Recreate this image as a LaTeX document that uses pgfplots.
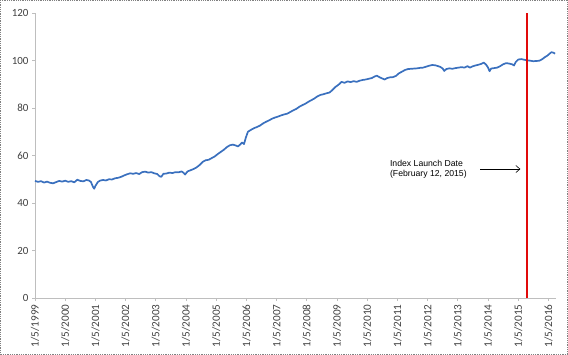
\documentclass[border=0pt]{standalone}
\usepackage{pgfplots}
\pgfplotsset{compat=1.18}
\usepackage{fontspec}
\setmainfont{Carlito}
\newfontfamily\arialfont{Liberation Sans}
\usetikzlibrary{arrows.meta}
\definecolor{serblue}{RGB}{58,112,190}
\definecolor{tickgray}{RGB}{64,64,64}
\definecolor{axgray}{RGB}{190,190,190}
\definecolor{launchred}{RGB}{225,10,10}
\begin{document}
\begin{tikzpicture}
\useasboundingbox (-35bp,-57bp) rectangle (533bp,298bp);
\draw[gray, densely dotted, line width=0.8bp] (-34.6bp,-56.6bp) rectangle (532.6bp,297.6bp);
\begin{axis}[
  scale only axis, width=521bp, height=285bp,
  at={(0,0)}, anchor=south west,
  xmin=1999, xmax=2016.25, ymin=0, ymax=120,
  axis x line=bottom, axis y line=left,
  axis line style={-, draw=axgray, line width=0.8bp},
  xtick={1999,2000,2001,2002,2003,2004,2005,2006,2007,2008,2009,2010,2011,2012,2013,2014,2015,2016},
  xticklabels={1/5/1999,1/5/2000,1/5/2001,1/5/2002,1/5/2003,1/5/2004,1/5/2005,1/5/2006,1/5/2007,1/5/2008,1/5/2009,1/5/2010,1/5/2011,1/5/2012,1/5/2013,1/5/2014,1/5/2015,1/5/2016},
  ytick={0,20,40,60,80,100,120},
  tick align=outside, major tick length=3bp,
  tick style={draw=axgray, line width=0.8bp},
  /pgf/number format/assume math mode=true,
  x tick label style={rotate=90, anchor=east, font=\fontsize{11.2}{12}\selectfont, text=tickgray},
  y tick label style={font=\fontsize{11}{12}\selectfont, text=tickgray},
  clip=false,
]
\addplot[serblue, line width=1.7bp, line join=round] coordinates {
(1999.00,49.3) (1999.10,48.9) (1999.20,49.2) (1999.30,48.6) (1999.40,49.0) (1999.50,48.5)
(1999.60,48.3) (1999.70,48.8) (1999.80,49.3) (1999.90,49.0) (2000.00,49.4) (2000.10,48.9)
(2000.20,49.2) (2000.30,48.7) (2000.40,49.8) (2000.50,49.3) (2000.60,49.1) (2000.70,49.7)
(2000.78,49.5) (2000.85,48.9) (2000.92,46.8) (2000.96,46.0) (2001.00,47.2) (2001.08,48.8)
(2001.15,49.4) (2001.25,49.7) (2001.35,49.5) (2001.45,50.0) (2001.55,49.9) (2001.65,50.4)
(2001.75,50.6) (2001.85,51.0) (2001.95,51.6) (2002.05,52.1) (2002.15,52.5) (2002.25,52.3)
(2002.35,52.6) (2002.45,52.2) (2002.55,53.0) (2002.65,53.2) (2002.75,52.8) (2002.85,53.0)
(2002.95,52.5) (2003.05,52.2) (2003.12,51.3) (2003.18,51.0) (2003.25,52.3) (2003.35,52.4)
(2003.45,52.8) (2003.55,52.6) (2003.65,53.0) (2003.75,52.9) (2003.85,53.3) (2003.92,52.7)
(2003.97,52.0) (2004.05,53.3) (2004.15,53.8) (2004.25,54.3) (2004.35,55.0) (2004.45,56.0)
(2004.55,57.3) (2004.65,58.0) (2004.75,58.2) (2004.85,58.9) (2004.95,59.6) (2005.05,60.6)
(2005.15,61.5) (2005.25,62.4) (2005.35,63.5) (2005.45,64.3) (2005.55,64.6) (2005.65,64.2)
(2005.72,63.8) (2005.80,64.7) (2005.86,65.5) (2005.92,64.8) (2005.98,67.5) (2006.05,70.0)
(2006.15,70.8) (2006.25,71.5) (2006.35,72.0) (2006.45,72.6) (2006.55,73.5) (2006.65,74.2)
(2006.75,74.8) (2006.85,75.5) (2006.95,76.0) (2007.05,76.4) (2007.15,76.9) (2007.25,77.3)
(2007.35,77.6) (2007.45,78.3) (2007.55,79.0) (2007.65,79.6) (2007.75,80.5) (2007.85,81.2)
(2007.95,81.8) (2008.05,82.6) (2008.15,83.3) (2008.25,84.0) (2008.35,84.9) (2008.45,85.5)
(2008.55,85.8) (2008.65,86.2) (2008.75,86.5) (2008.85,87.6) (2008.95,88.9) (2009.05,89.8)
(2009.15,91.0) (2009.25,90.6) (2009.35,91.2) (2009.45,90.9) (2009.55,91.3) (2009.65,91.0)
(2009.75,91.5) (2009.85,91.8) (2009.95,92.0) (2010.05,92.3) (2010.15,92.6) (2010.25,93.3)
(2010.32,93.6) (2010.40,93.0) (2010.50,92.4) (2010.58,92.0) (2010.66,92.6) (2010.75,92.9)
(2010.85,93.0) (2010.95,93.5) (2011.05,94.6) (2011.15,95.3) (2011.25,96.0) (2011.35,96.4)
(2011.45,96.5) (2011.55,96.6) (2011.65,96.7) (2011.75,96.9) (2011.85,97.0) (2011.95,97.4)
(2012.05,97.8) (2012.15,98.1) (2012.25,98.0) (2012.35,97.6) (2012.42,97.3) (2012.50,96.6)
(2012.55,95.6) (2012.62,96.4) (2012.72,96.7) (2012.82,96.5) (2012.92,96.8) (2013.02,97.0)
(2013.12,97.2) (2013.22,97.0) (2013.32,97.6) (2013.40,97.0) (2013.48,97.5) (2013.58,97.9)
(2013.68,98.2) (2013.78,98.6) (2013.86,99.1) (2013.94,98.2) (2014.00,97.0) (2014.05,95.5)
(2014.10,96.6) (2014.20,96.8) (2014.30,97.0) (2014.40,97.6) (2014.50,98.4) (2014.60,98.9)
(2014.70,98.7) (2014.80,98.4) (2014.86,97.9) (2014.92,99.4) (2015.00,100.4) (2015.10,100.6)
(2015.20,100.3) (2015.30,100.1) (2015.40,99.9) (2015.50,99.7) (2015.60,99.8) (2015.70,99.9)
(2015.80,100.6) (2015.88,101.4) (2015.96,102.0) (2016.04,102.9) (2016.10,103.5) (2016.16,103.3)
(2016.22,102.9)
};
\addplot[color=launchred, line width=1.1bp] coordinates {(2015.29,0) (2015.29,120)};
\node[anchor=west, align=left, inner sep=0pt, font=\arialfont\fontsize{8.7}{10.3}\selectfont]
  at (axis cs:2010.75,54.3) {Index Launch Date\\(February 12, 2015)};
\draw[-{Straight Barb[length=4bp,width=7bp]}, line width=0.6bp] (axis cs:2013.75,54.3) -- (axis cs:2015.07,54.3);
\end{axis}
\end{tikzpicture}
\end{document}
